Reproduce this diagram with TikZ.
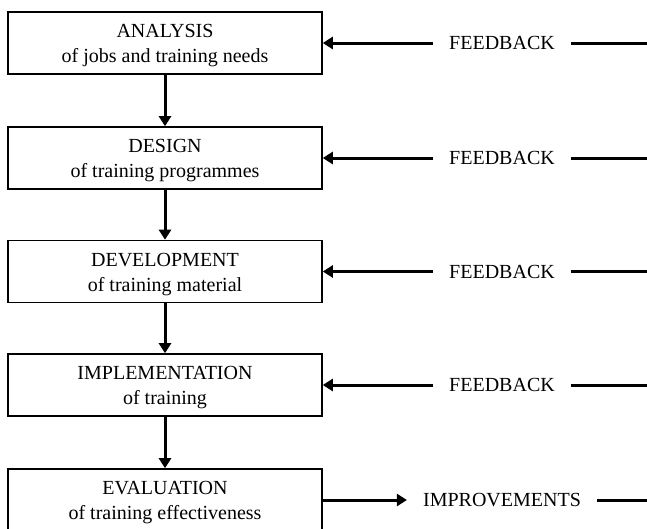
\documentclass[tikz,border=0pt]{standalone}
\usepackage{fontspec}
\setmainfont{Liberation Serif}
\usetikzlibrary{arrows.meta}
\newcommand{\topstrut}{\rule{0pt}{19pt}}
\begin{document}
\begin{tikzpicture}[x=1pt,y=-1pt,
  stagebox/.style={draw,line width=1.6pt,minimum width=314pt,minimum height=62pt,align=center,font=\fontsize{20}{25}\selectfont,inner sep=0pt},
  lbl/.style={font=\fontsize{20}{25}\selectfont,inner xsep=16pt,inner ysep=0pt},
  conn/.style={line width=3pt,-{Triangle[length=10pt,width=12pt]}},
  plain/.style={line width=3pt}]
\useasboundingbox (0,0) rectangle (647,528);
\node[stagebox] (a) at (165,43) {\topstrut ANALYSIS\\of jobs and training needs};
\node[stagebox] (d) at (165,158) {\topstrut DESIGN\\of training programmes};
\node[stagebox] (v) at (165,271.5) {\topstrut DEVELOPMENT\\of training material};
\node[stagebox] (i) at (165,385) {\topstrut IMPLEMENTATION\\of training};
\node[stagebox] (e) at (165,500) {\topstrut EVALUATION\\of training effectiveness};
\draw[conn] (a.south) -- (d.north);
\draw[conn] (d.south) -- (v.north);
\draw[conn] (v.south) -- (i.north);
\draw[conn] (i.south) -- (e.north);
\foreach \b/\y in {a/43,d/158,v/271.5,i/385}{
  \node[lbl] (f\b) at (502,\y) {FEEDBACK};
  \coordinate (r\b) at (647,\y);
  \draw[conn] (f\b.west) -- (\b.east);
  \draw[plain] (f\b.east) -- (r\b);
}
\node[lbl] (imp) at (502,500) {IMPROVEMENTS};
\coordinate (re) at (647,500);
\draw[conn] (e.east) -- (imp.west);
\draw[plain] (imp.east) -- (re);
\end{tikzpicture}
\end{document}
